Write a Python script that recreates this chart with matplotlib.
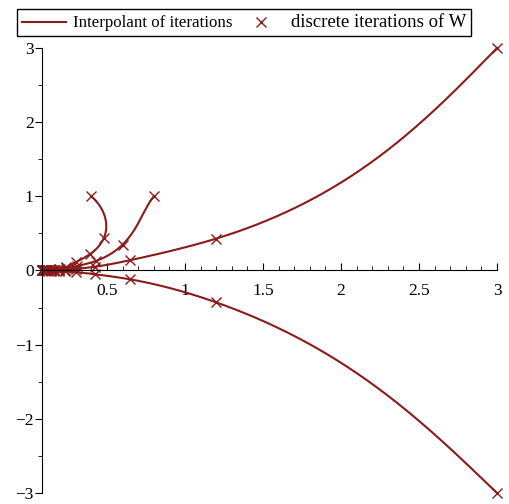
import numpy as np
import matplotlib
matplotlib.use("Agg")
import matplotlib.pyplot as plt
from matplotlib.ticker import MultipleLocator, FuncFormatter
from matplotlib.lines import Line2D

plt.rcParams["font.family"] = ["Liberation Serif", "DejaVu Serif"]

RED = "#8B1A1A"

# iterations of W
xa = [3.0, 1.2, 0.65, 0.42, 0.30, 0.23, 0.19, 0.16, 0.14, 0.12, 0.11, 0.10, 0.09, 0.083]
ya = [3.0, 0.43, 0.14, 0.05, 0.022, 0.010, 0.005, 0.003, 0.002, 0.001, 0.0, 0.0, 0.0, 0.0]
xb = [3.0, 1.2, 0.65, 0.42, 0.30, 0.23, 0.19, 0.16, 0.14, 0.12, 0.11, 0.10, 0.09, 0.083]
yb = [-3.0, -0.43, -0.12, -0.05, -0.022, -0.010, -0.005, -0.003, -0.002, -0.001, 0.0, 0.0, 0.0, 0.0]
xc = [0.8, 0.6, 0.43, 0.31, 0.24, 0.19, 0.16, 0.14, 0.12, 0.11, 0.10, 0.09, 0.083]
yc = [1.0, 0.35, 0.13, 0.06, 0.03, 0.015, 0.008, 0.004, 0.002, 0.001, 0.0, 0.0, 0.0]
xd = [0.4, 0.48, 0.39, 0.30, 0.24, 0.19, 0.16, 0.14, 0.12, 0.11, 0.10, 0.09, 0.083]
yd = [1.0, 0.44, 0.22, 0.11, 0.05, 0.025, 0.012, 0.006, 0.003, 0.001, 0.0, 0.0, 0.0]
runs = [(xa, ya, False), (xb, yb, False), (xc, yc, True), (xd, yd, True)]


def spline(t, v, tt, knot_start):
    # cubic spline; natural ends, optionally not-a-knot at the start
    n = len(t)
    h = np.diff(t)
    A = np.zeros((n, n))
    r = np.zeros(n)
    if knot_start:
        A[0, :3] = [h[1], -(h[0] + h[1]), h[0]]
    else:
        A[0, 0] = 1.0
    A[-1, -1] = 1.0
    for i in range(1, n - 1):
        A[i, i - 1] = h[i - 1]
        A[i, i] = 2 * (h[i - 1] + h[i])
        A[i, i + 1] = h[i]
        r[i] = 6 * ((v[i + 1] - v[i]) / h[i] - (v[i] - v[i - 1]) / h[i - 1])
    m = np.linalg.solve(A, r)
    k = np.clip(np.searchsorted(t, tt) - 1, 0, n - 2)
    a = (t[k + 1] - tt) / h[k]
    b = (tt - t[k]) / h[k]
    return (a * v[k] + b * v[k + 1]
            + ((a ** 3 - a) * m[k] + (b ** 3 - b) * m[k + 1]) * h[k] ** 2 / 6)


def interpolant(x, y, knot_start):
    x = np.asarray(x)
    y = np.asarray(y)
    t = np.concatenate([[0], np.cumsum(np.hypot(np.diff(x), np.diff(y)) + 1e-4)])
    tt = np.linspace(0, t[-1], 800)
    return spline(t, x, tt, knot_start), spline(t, y, tt, knot_start)


fig = plt.figure(figsize=(5.09, 5.04), dpi=100)
ax = fig.add_axes([0.0825, 0.0218, 0.894, 0.883])

for x, y, ks in runs:
    sx, sy = interpolant(x, y, ks)
    ax.plot(sx, sy, color=RED, lw=1.5, clip_on=False)
    ax.plot(x, y, "x", color=RED, ms=7, mew=1.0, clip_on=False)

ax.set_xlim(0.083, 3)
ax.set_ylim(-3, 3)
ax.spines["top"].set_visible(False)
ax.spines["right"].set_visible(False)
ax.spines["bottom"].set_position(("data", 0))
ax.xaxis.set_major_locator(MultipleLocator(0.5))
ax.xaxis.set_minor_locator(MultipleLocator(0.1))
ax.yaxis.set_major_locator(MultipleLocator(1))
ax.yaxis.set_minor_locator(MultipleLocator(0.5))
ax.xaxis.set_major_formatter(FuncFormatter(lambda v, p: "%g" % v))
ax.tick_params(axis="x", which="both", direction="in", labelsize=12.5, pad=9)
ax.tick_params(axis="x", which="major", length=5)
ax.tick_params(axis="x", which="minor", length=3)
ax.tick_params(axis="y", which="both", direction="out", labelsize=12.5, pad=1)
ax.tick_params(axis="y", which="major", length=5)
ax.tick_params(axis="y", which="minor", length=3)

handles = [Line2D([], [], color=RED, lw=1.5),
           Line2D([], [], color=RED, marker="x", ls="none", ms=7, mew=1.0)]
leg = fig.legend(handles, ["Interpolant of iterations", "discrete iterations of W"],
                 loc="upper left", bbox_to_anchor=(0.02, 0.995), ncol=2,
                 fancybox=False, edgecolor="black", framealpha=1,
                 handlelength=3.2, handletextpad=0.5, columnspacing=0.45,
                 borderpad=0.35)
leg.get_frame().set_linewidth(1.0)
leg.get_texts()[0].set_fontsize(12.2)
leg.get_texts()[1].set_fontsize(13.5)

fig.savefig("out.png", dpi=100)
